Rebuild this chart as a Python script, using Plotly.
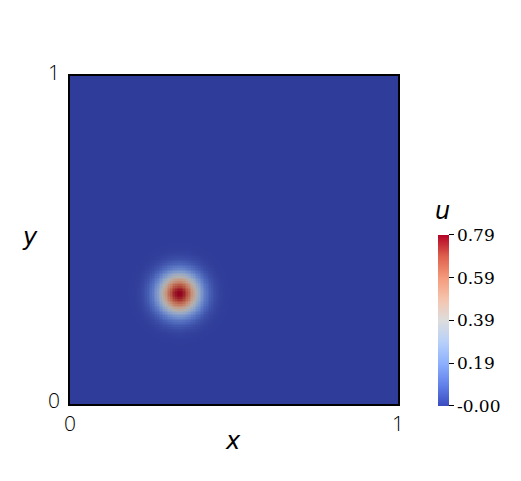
import numpy as np
import plotly.graph_objects as go

# Field parameters (Gaussian pulse)
peak_u = 0.79
center_x = 0.333
center_y = 0.336
sigma = 0.044
n_grid = 200

cbar_tickvals = [0.0, 0.1975, 0.395, 0.5925, 0.79]
cbar_ticktext = ["-0.00", "0.19", "0.39", "0.59", "0.79"]
axis_tickvals = [0, 1]
axis_ticktext = ["0", "1"]

xs = (np.arange(n_grid) + 0.5) / n_grid
ys = (np.arange(n_grid) + 0.5) / n_grid
X, Y = np.meshgrid(xs, ys)
U = peak_u * np.exp(-((X - center_x) ** 2 + (Y - center_y) ** 2) / (2 * sigma ** 2))

cw = [(0.0, (59, 76, 192)), (0.125, (98, 130, 234)), (0.25, (141, 176, 254)),
      (0.375, (184, 208, 249)), (0.5, (221, 221, 221)), (0.625, (245, 196, 173)),
      (0.75, (244, 154, 123)), (0.875, (222, 96, 77)), (1.0, (180, 4, 38))]
cbar_scale = [[p, "rgb(%d,%d,%d)" % c] for p, c in cw]
shade = 0.8
field_scale = [[p, "rgb(%d,%d,%d)" % tuple(int(v * shade) for v in c)] for p, c in cw]

fig = go.Figure()
fig.add_trace(go.Heatmap(x=xs, y=ys, z=U, zmin=0, zmax=peak_u,
                         colorscale=field_scale, showscale=False, hoverinfo="skip"))
fig.add_trace(go.Scatter(
    x=[0.5], y=[0.5], mode="markers",
    marker=dict(size=0.1, opacity=0, color=[0], cmin=0, cmax=peak_u,
                colorscale=cbar_scale, showscale=True,
                colorbar=dict(
                    tickvals=cbar_tickvals, ticktext=cbar_ticktext,
                    tickfont=dict(family="DejaVu Serif", size=17, color="black"),
                    ticks="outside", ticklen=5, tickcolor="black",
                    thickness=11, len=171, lenmode="pixels",
                    x=1.122, xanchor="left", y=0.2546, yanchor="middle",
                    outlinewidth=0, ypad=0, xpad=0)),
    hoverinfo="skip", showlegend=False))

axis_common = dict(range=[0, 1], tickvals=axis_tickvals, ticktext=axis_ticktext,
                   showgrid=False, zeroline=False, showline=True, mirror=True,
                   linecolor="black", linewidth=1.5, ticks="",
                   tickfont=dict(family="Open Sans", size=21, color="black", weight=300))
fig.update_xaxes(**axis_common, ticklabelstandoff=0)
fig.update_yaxes(**axis_common, ticklabelstandoff=4, ticklabelshift=-3)

title_font = dict(family="DejaVu Sans", size=24, color="black")
fig.add_annotation(text="<i>y</i>", x=-0.122, y=0.509, xref="paper", yref="paper",
                   xanchor="center", yanchor="middle", showarrow=False, font=title_font)
fig.add_annotation(text="<i>x</i>", x=0.497, y=-0.113, xref="paper", yref="paper",
                   xanchor="center", yanchor="middle", showarrow=False, font=title_font)
fig.add_annotation(text="<i>u</i>", x=1.137, y=0.588, xref="paper", yref="paper",
                   xanchor="center", yanchor="middle", showarrow=False, font=title_font)

fig.update_layout(width=513, height=473, margin=dict(l=62, r=123, t=68, b=77),
                  plot_bgcolor="white", paper_bgcolor="white", showlegend=False)

fig.write_html("out.html")
